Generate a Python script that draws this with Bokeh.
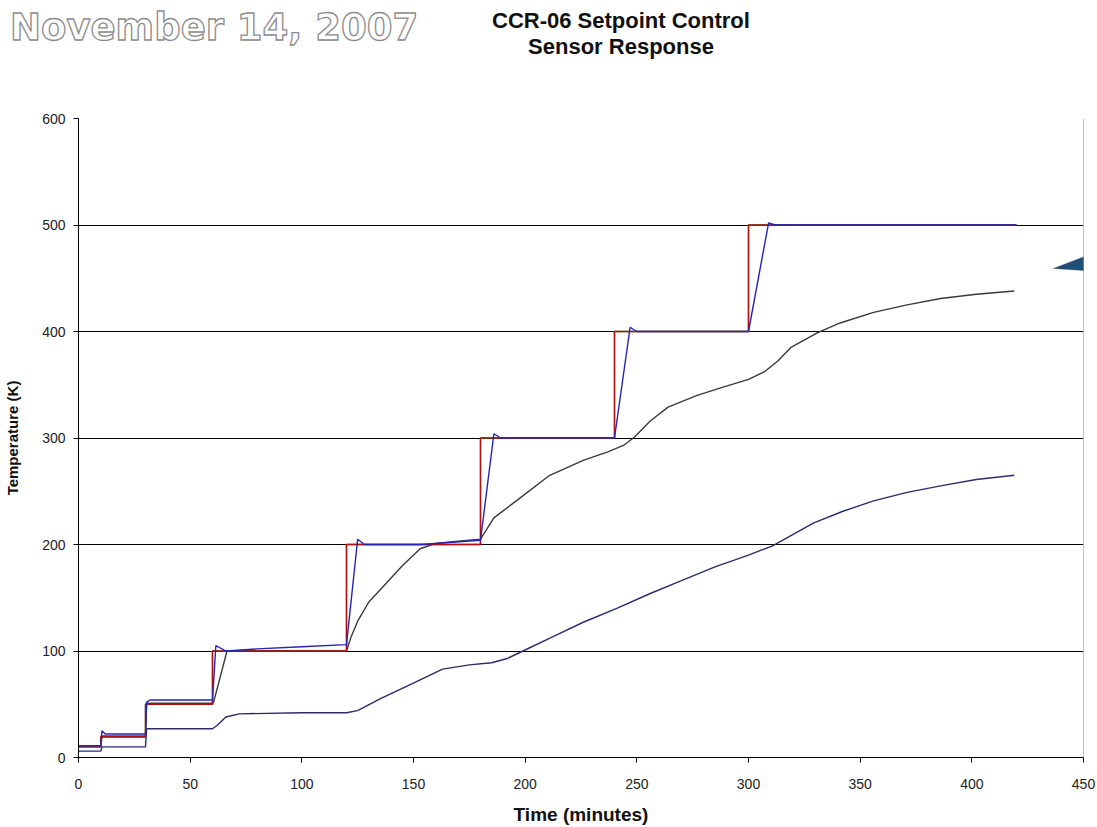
from bokeh.plotting import figure
from bokeh.layouts import column
from bokeh.models import Range1d, FixedTicker, Span, PolyAnnotation, Div
from bokeh.embed import file_html
from bokeh.resources import INLINE

# ---------------- data ----------------
x_ticks = [0, 50, 100, 150, 200, 250, 300, 350, 400, 450]
y_ticks = [0, 100, 200, 300, 400, 500, 600]
grid_levels = [100, 200, 300, 400, 500]

date_text = "November 14, 2007"
title_lines = ["CCR-06 Setpoint Control", "Sensor Response"]

sp_time = [0, 10, 10, 30, 30, 60, 60, 120, 120, 180, 180, 240, 240, 300, 300, 420]
sp_temp = [10, 10, 20, 20, 50, 50, 100, 100, 200, 200, 300, 300, 400, 400, 500, 500]

s2_time = [0, 10, 10, 30, 30, 60, 60, 120, 120, 180, 180, 240, 240, 300, 300, 420]
s2_temp = [11, 11, 19, 19, 50, 50, 100, 100, 200, 200, 300, 300, 400, 400, 500, 500]

s1_time = [0, 10, 10.5, 12, 30, 30.5, 32, 60, 61.5, 66, 80, 100, 120, 125, 128, 153,
           180, 186, 189, 240, 247, 250, 300, 309, 312, 420]
s1_temp = [11, 11, 25, 22, 22, 52, 54, 54, 105, 100, 102, 104, 106, 205, 200, 200,
           204, 304, 300, 300, 404, 400, 400, 502, 500, 500]

s3_time = [0, 10, 10.5, 30, 30.5, 60, 60.5, 66.5, 90, 120, 122, 125, 130, 138, 145, 153,
           160, 170, 180, 186, 196, 211, 226, 237, 244, 249, 256, 264, 277, 289, 300,
           307, 313, 319, 331, 341, 356, 371, 386, 402, 419]
s3_temp = [10, 10, 20, 20, 51, 51, 52, 100, 100, 100, 113, 128, 146, 164, 180, 196,
           201, 203, 205, 225, 241, 265, 279, 287, 293, 301, 316, 329, 340, 348, 355,
           362, 372, 385, 399, 408, 418, 425, 431, 435, 438]

s4_time = [0, 10, 10.5, 30, 30.5, 60, 62, 66, 72, 100, 120, 125, 135, 149, 163, 175,
           185, 192, 199, 212, 226, 241, 256, 270, 285, 300, 311, 329, 342, 356, 371,
           386, 402, 419]
s4_temp = [6, 6, 10, 10, 27, 27, 30, 38, 41, 42, 42, 44, 55, 69, 83, 87,
           89, 93, 100, 113, 127, 140, 154, 166, 179, 190, 199, 220, 231, 241, 249,
           255, 261, 265]

W = 1097
H = 827
HEAD_H = 60

# ---------------- header (date + title) as real HTML text ----------------
header_html = (
    f'<div style="position:relative;width:{W}px;height:{HEAD_H}px;">'
    '<span style="position:absolute;left:10px;top:9px;white-space:nowrap;'
    "font-family:'DejaVu Sans';font-weight:bold;font-size:37px;line-height:1;"
    'color:#ffffff;-webkit-text-stroke:1.3px #8c8c8c;">'
    f'{date_text}</span>'
    '<div style="position:absolute;left:421px;width:400px;top:8px;text-align:center;'
    "font-family:'Liberation Sans';font-weight:bold;font-size:22px;line-height:26px;"
    'color:#111111;white-space:nowrap;">'
    f'{title_lines[0]}<br>{title_lines[1]}</div>'
    '</div>'
)
head = Div(text=header_html, width=W, height=HEAD_H, margin=(0, 0, 0, 0))

# ---------------- main chart ----------------
p = figure(width=W, height=H - HEAD_H, output_backend="svg", toolbar_location=None,
           x_range=Range1d(0, 450), y_range=Range1d(0, 600),
           min_border_left=78, min_border_right=14, min_border_top=58,
           min_border_bottom=70)
p.outline_line_color = None

p.xgrid.grid_line_color = None
p.ygrid.ticker = FixedTicker(ticks=grid_levels)
p.ygrid.grid_line_color = "black"
p.ygrid.grid_line_width = 1

for ax in (p.xaxis[0], p.yaxis[0]):
    ax.axis_line_color = "black"
    ax.major_tick_line_color = "black"
    ax.major_tick_out = 5
    ax.major_tick_in = 0
    ax.minor_tick_line_color = None
    ax.major_label_text_font = "Liberation Sans"
    ax.major_label_text_font_size = "14px"
    ax.major_label_text_color = "#222222"
    ax.axis_label_text_font = "Liberation Sans"
    ax.axis_label_text_font_style = "bold"
    ax.axis_label_text_color = "#111111"

p.xaxis.ticker = FixedTicker(ticks=x_ticks)
p.yaxis.ticker = FixedTicker(ticks=y_ticks)
p.xaxis.axis_label = "Time (minutes)"
p.yaxis.axis_label = "Temperature (K)"
p.xaxis.axis_label_text_font_size = "19px"
p.yaxis.axis_label_text_font_size = "15px"
p.xaxis.major_label_standoff = 16
p.yaxis.major_label_standoff = 8
p.xaxis.axis_label_standoff = 12
p.yaxis.axis_label_standoff = 18

p.add_layout(Span(location=450, dimension="height", line_color="#808080", line_width=1))

lw = 1.4
p.line(s2_time, s2_temp, line_color="#208a20", line_width=lw)
p.line(s4_time, s4_temp, line_color="#2b2b6e", line_width=lw)
p.line(s3_time, s3_temp, line_color="#3a3a3a", line_width=lw)
p.line(sp_time, sp_temp, line_color="#b01010", line_width=lw)
p.line(s1_time, s1_temp, line_color="#2424b8", line_width=lw)

# decorative callout pointer at the right edge
p.add_layout(PolyAnnotation(xs=[1053, 1097, 1097], ys=[208, 191, 211],
                            xs_units="canvas", ys_units="canvas",
                            fill_color="#1f4e79", fill_alpha=1,
                            line_color="#0d2a45", line_width=1))

layout = column(head, p, spacing=0)
open("out.html", "w").write(file_html(layout, INLINE))
